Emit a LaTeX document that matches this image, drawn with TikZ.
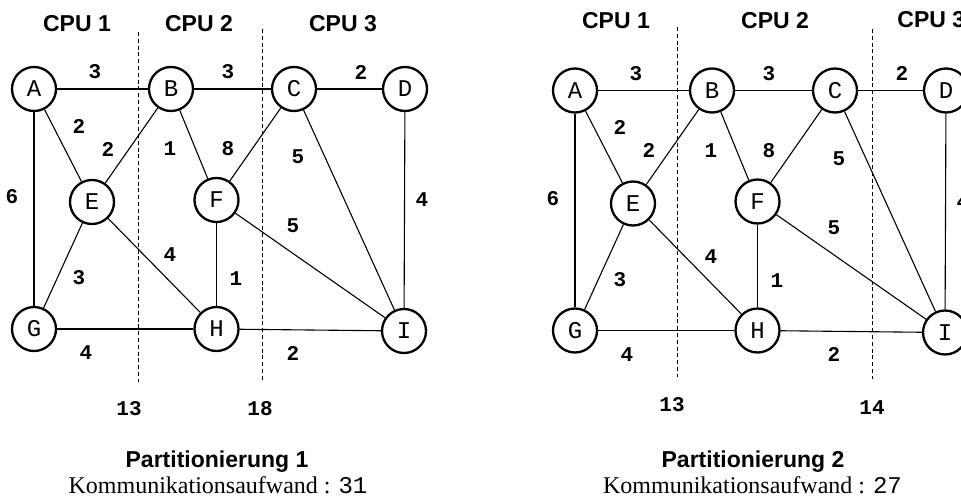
\documentclass[tikz,border=0pt]{standalone}
\usepackage{fontspec}
\setmainfont{Liberation Serif}
\newfontfamily\hsans{Liberation Sans}
\newfontfamily\cmono{Liberation Mono}
\newcommand\vtxfont{\cmono\fontsize{12}{14}\selectfont}
\newcommand\wtfont{\cmono\bfseries\fontsize{10.5}{12}\selectfont}
\newcommand\cpufont{\hsans\bfseries\fontsize{11.5}{13}\selectfont}
\newcommand\capfont{\fontsize{12}{14}\selectfont}
\tikzset{
  vtx/.style={circle, draw, line width=1.15pt, minimum size=22pt, inner sep=0pt, font=\vtxfont},
  wt/.style={font=\wtfont, inner sep=0pt},
  conn/.style={line width=0.55pt},
  cut/.style={line width=0.5pt, dash pattern=on 2pt off 1.4pt},
  cpu/.style={font=\cpufont, inner sep=0pt},
  ttl/.style={font=\cpufont, inner sep=0pt, anchor=base},
  cost/.style={font=\capfont, inner sep=0pt, anchor=base},
}
\newcommand\drawgraph{%
  \node[vtx] (A) at (34,89) {A};
  \node[vtx] (B) at (171,89) {B};
  \node[vtx] (C) at (294,89) {C};
  \node[vtx] (D) at (405,89) {D};
  \node[vtx] (E) at (92,202) {E};
  \node[vtx] (F) at (216.5,200) {F};
  \node[vtx] (G) at (34,329) {G};
  \node[vtx] (H) at (216.5,329) {H};
  \node[vtx] (I) at (404,331) {I};
  \draw[conn] (A) -- (B);
  \draw[conn] (B) -- (C);
  \draw[conn] (C) -- (D);
  \draw[conn] (A) -- (E);
  \draw[conn] (B) -- (E);
  \draw[conn] (B) -- (F);
  \draw[conn] (C) -- (F);
  \draw[conn] (C) -- (I);
  \draw[conn] (A) -- (G);
  \draw[conn] (D) -- (I);
  \draw[conn] (F) -- (I);
  \draw[conn] (E) -- (H);
  \draw[conn] (E) -- (G);
  \draw[conn] (F) -- (H);
  \draw[conn] (G) -- (H);
  \draw[conn] (H) -- (I);
  \node[wt] (wAB) at (95,72) {3};
  \node[wt] (wBC) at (228,72) {3};
  \node[wt] (wCD) at (361,72) {2};
  \node[wt] (wAE) at (79,126) {2};
  \node[wt] (wBE) at (108,149) {2};
  \node[wt] (wBF) at (170,149) {1};
  \node[wt] (wCF) at (228,149) {8};
  \node[wt] (wCI) at (298,157) {5};
  \node[wt] (wAG) at (12,197) {6};
  \node[wt] (wDI) at (422,200) {4};
  \node[wt] (wFI) at (293,226) {5};
  \node[wt] (wEH) at (170,255) {4};
  \node[wt] (wEG) at (79,278) {3};
  \node[wt] (wFH) at (236,279) {1};
  \node[wt] (wGH) at (86,353) {4};
  \node[wt] (wHI) at (293,353) {2};
}
\begin{document}
\begin{tikzpicture}[x=0.5pt, y=-0.5pt]
  \useasboundingbox (0,0) rectangle (961,497);
  \clip (0,0) rectangle (961,497);
  % left: Partitionierung 1
  \begin{scope}[name prefix=L-]
    \drawgraph
  \end{scope}
  \coordinate (l1t) at (138,32);
  \coordinate (l1b) at (138,382);
  \coordinate (l2t) at (262,29);
  \coordinate (l2b) at (262,380);
  \draw[cut] (l1t) -- (l1b);
  \draw[cut] (l2t) -- (l2b);
  \node[cpu] (lcpu1) at (77,24) {CPU 1};
  \node[cpu] (lcpu2) at (199,24) {CPU 2};
  \node[cpu] (lcpu3) at (343,24) {CPU 3};
  \node[wt] (lsum1) at (129,409) {13};
  \node[wt] (lsum2) at (260,409) {18};
  \node[ttl] (lttl) at (217,467) {Partitionierung 1};
  \node[cost] (lcost) at (218,493) {Kommunikationsaufwand : {\cmono 31}};
  % right: Partitionierung 2
  \begin{scope}[shift={(541,1.5)}, name prefix=R-]
    \drawgraph
  \end{scope}
  \coordinate (r1t) at (677,27);
  \coordinate (r1b) at (677,377);
  \coordinate (r2t) at (872.5,29);
  \coordinate (r2b) at (872.5,379);
  \draw[cut] (r1t) -- (r1b);
  \draw[cut] (r2t) -- (r2b);
  \node[cpu] (rcpu1) at (616,21) {CPU 1};
  \node[cpu] (rcpu2) at (775,21) {CPU 2};
  \node[cpu, anchor=base west] (rcpu3) at (897,28) {CPU 3};
  \node[wt] (rsum1) at (672,405) {13};
  \node[wt] (rsum2) at (872,408) {14};
  \node[ttl] (rttl) at (753,467) {Partitionierung 2};
  \node[cost] (rcost) at (752.5,493) {Kommunikationsaufwand : {\cmono 27}};
\end{tikzpicture}
\end{document}
